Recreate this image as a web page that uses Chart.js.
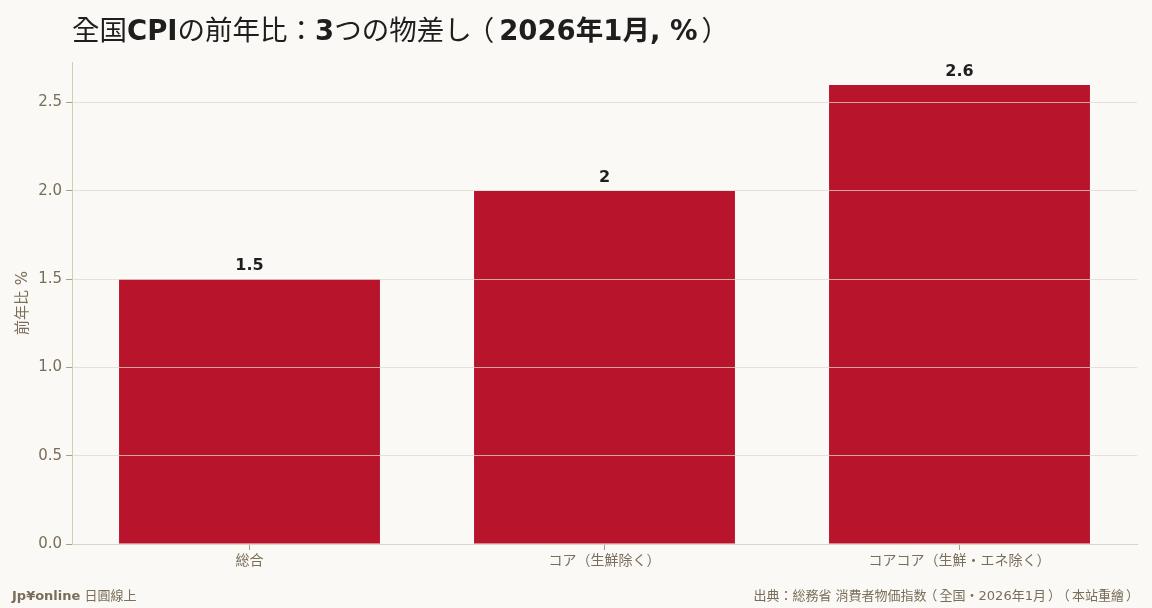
<!DOCTYPE html>
<html>
<head>
<meta charset="utf-8">
<script src="https://cdn.jsdelivr.net/npm/chart.js@4.4.1/dist/chart.umd.min.js"></script>
<style>
  html, body { margin: 0; padding: 0; background: #faf9f5; }
  #wrap { position: relative; width: 1152px; height: 608px; background: #faf9f5; font-family: "DejaVu Sans", "Noto Sans CJK TC", sans-serif; text-spacing-trim: space-all; }
  #chart { position: absolute; left: 0; top: 0; }
  .title { position: absolute; left: 72px; top: 8px; font-size: 27.5px; color: #1e1e1e; white-space: nowrap; }
  .title b { font-weight: bold; }
  .foot { position: absolute; top: 585px; font-size: 13px; color: #7a6e5a; white-space: nowrap; }
  .foot.left { left: 12px; }
  .foot.right { right: 15px; }
  .po { position: relative; left: -0.18em; font-weight: normal; }
  .pc { position: relative; left: 0.15em; font-weight: normal; }
</style>
</head>
<body>
<div id="wrap">
  <canvas id="chart" width="1152" height="608"></canvas>
  <div class="title">全国<b>CPI</b>の前年比：<b>3</b>つの物差し<span class="po">（</span><b>2026年1月, %</b><span class="pc">）</span></div>
  <div class="foot left"><b>Jp¥online</b> 日圓線上</div>
  <div class="foot right">出典：総務省 消費者物価指数<span class="po">（</span>全国・2026年1月<span class="pc">）</span><span class="po">（</span>本站重繪<span class="pc">）</span></div>
</div>
<script>
const categories = ['総合', 'コア（生鮮除く）', 'コアコア（生鮮・エネ除く）'];
const yoyValues = [1.5, 2, 2.6];
const yTickValues = [0, 0.5, 1.0, 1.5, 2.0, 2.5];

const FONT = '"DejaVu Sans", "Noto Sans CJK TC", sans-serif';
const BAR_COLOR = '#b8152d';
const TEXT_MUTED = '#7a6e5a';
const AXIS_COLOR = '#d4cbb8';
const TICK_COLOR = '#a89e8a';

const valueLabels = {
    id: 'valueLabels',
    afterDatasetsDraw(chart) {
        const ctx = chart.ctx;
        const meta = chart.getDatasetMeta(0);
        ctx.save();
        ctx.font = 'bold 16px ' + FONT;
        ctx.fillStyle = '#1e1e1e';
        ctx.textAlign = 'center';
        ctx.textBaseline = 'bottom';
        meta.data.forEach((bar, i) => {
            ctx.fillText(String(yoyValues[i]), bar.x, bar.y - 5);
        });
        ctx.restore();
    }
};

new Chart(document.getElementById('chart'), {
    type: 'bar',
    data: {
        labels: categories,
        datasets: [{
            data: yoyValues,
            backgroundColor: BAR_COLOR,
            categoryPercentage: 1,
            barPercentage: 0.735
        }]
    },
    options: {
        responsive: false,
        animation: false,
        layout: { padding: { top: 62, right: 15, left: 0, bottom: 0 } },
        plugins: {
            legend: { display: false },
            tooltip: { enabled: false }
        },
        scales: {
            x: {
                grid: {
                    offset: false,
                    drawOnChartArea: false,
                    drawTicks: true,
                    tickLength: 6,
                    tickColor: TICK_COLOR
                },
                border: { color: AXIS_COLOR, width: 1 },
                ticks: {
                    color: TEXT_MUTED,
                    font: { family: FONT, size: 14 },
                    padding: 3
                },
                afterFit(scale) { scale.height = 64; }
            },
            y: {
                min: 0,
                max: 2.73,
                grid: {
                    color: 'rgba(222,216,204,0.75)',
                    tickColor: TICK_COLOR,
                    tickLength: 6,
                    z: 1
                },
                border: { color: AXIS_COLOR, width: 1, z: 1 },
                ticks: {
                    stepSize: 0.5,
                    includeBounds: false,
                    color: TEXT_MUTED,
                    font: { family: FONT, size: 15 },
                    padding: 4,
                    callback: (v) => yTickValues.includes(v) ? v.toFixed(1) : null
                },
                title: {
                    display: true,
                    text: '前年比 %',
                    color: TEXT_MUTED,
                    font: { family: FONT, size: 15 },
                    padding: { top: 14, bottom: 0 }
                },
                afterFit(scale) { scale.width = 72; }
            }
        }
    },
    plugins: [valueLabels]
});
</script>
</body>
</html>
